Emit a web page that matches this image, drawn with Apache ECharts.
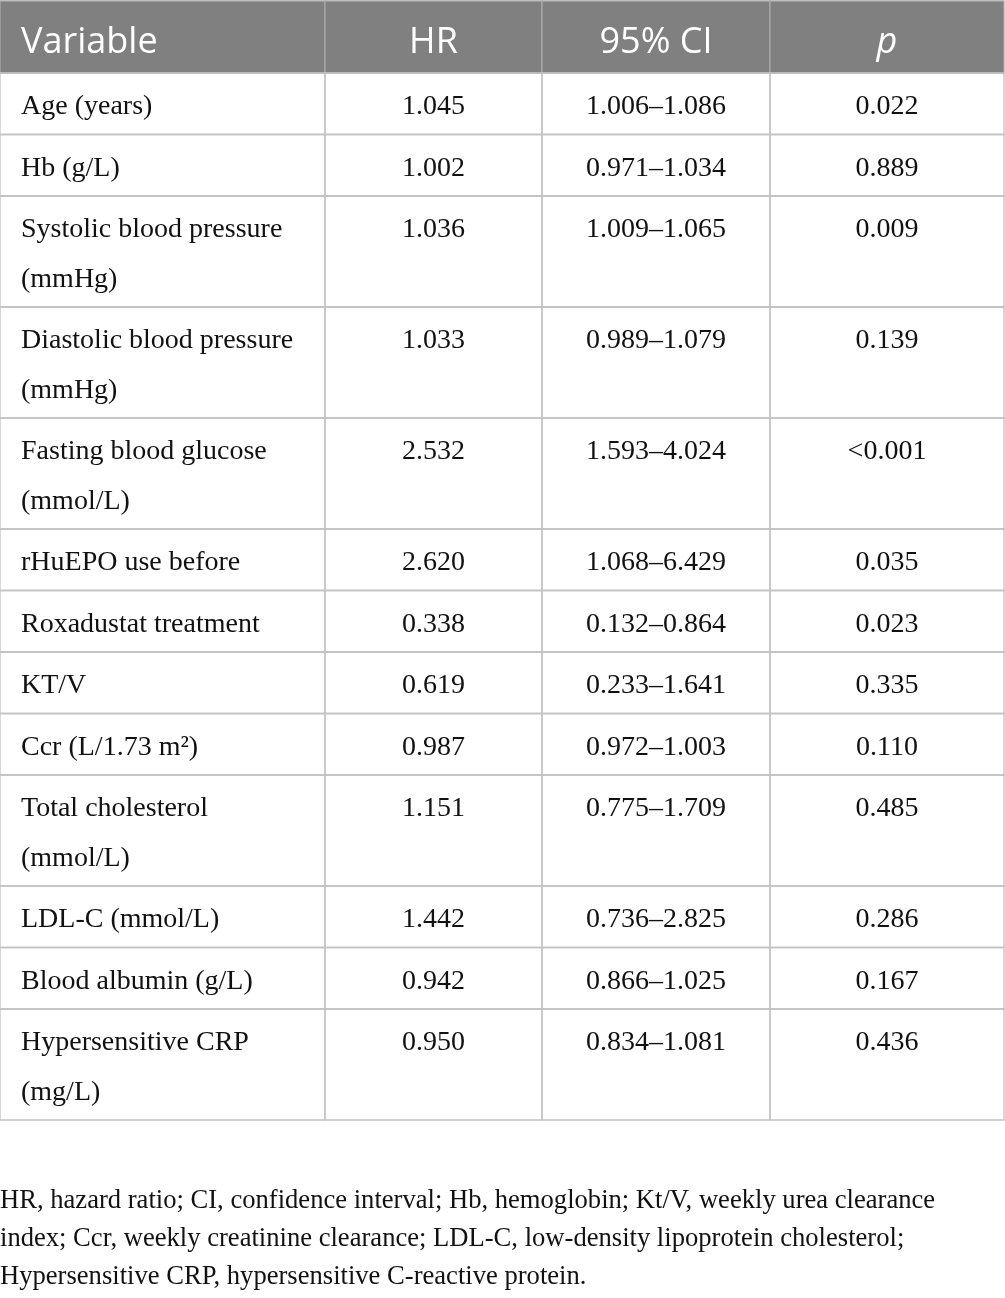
<!DOCTYPE html>
<html><head><meta charset="utf-8">
<script src="https://cdn.jsdelivr.net/npm/echarts/dist/echarts.min.js"></script>
<style>html,body{margin:0;padding:0;background:#fff}#c{width:1005px;height:1298px}</style>
</head><body><div id="c"></div>
<script>
// ---- data ----
const headers = ["Variable", "HR", "95% CI", "p"];
const variables = [
  "Age (years)",
  "Hb (g/L)",
  "Systolic blood pressure\n(mmHg)",
  "Diastolic blood pressure\n(mmHg)",
  "Fasting blood glucose\n(mmol/L)",
  "rHuEPO use before",
  "Roxadustat treatment",
  "KT/V",
  "Ccr (L/1.73 m\u00B2)",
  "Total cholesterol\n(mmol/L)",
  "LDL-C (mmol/L)",
  "Blood albumin (g/L)",
  "Hypersensitive CRP\n(mg/L)"
];
const hrValues = [1.045, 1.002, 1.036, 1.033, 2.532, 2.620, 0.338, 0.619, 0.987, 1.151, 1.442, 0.942, 0.950];
const ciLower  = [1.006, 0.971, 1.009, 0.989, 1.593, 1.068, 0.132, 0.233, 0.972, 0.775, 0.736, 0.866, 0.834];
const ciUpper  = [1.086, 1.034, 1.065, 1.079, 4.024, 6.429, 0.864, 1.641, 1.003, 1.709, 2.825, 1.025, 1.081];
const pValues  = ["0.022", "0.889", "0.009", "0.139", "<0.001", "0.035", "0.023", "0.335", "0.110", "0.485", "0.286", "0.167", "0.436"];
const footnoteLines = [
  "HR, hazard ratio; CI, confidence interval; Hb, hemoglobin; Kt/V, weekly urea clearance",
  "index; Ccr, weekly creatinine clearance; LDL-C, low-density lipoprotein cholesterol;",
  "Hypersensitive CRP, hypersensitive C-reactive protein."
];

// ---- layout ----
const W = 1005, H = 1298;
const colEdges = [0, 325, 542, 770, 1004];
const tableTop = 1, headerBottom = 73;
const lineStep = 49.5, rowPad = 12;
const rowTops = [tableTop], rowBottoms = [headerBottom];
let yy = headerBottom;
variables.forEach(v => {
  const n = v.split("\n").length;
  rowTops.push(yy);
  yy += n * lineStep + rowPad;
  rowBottoms.push(yy);
});

function bodyText(i, c) {
  if (c === 0) return variables[i];
  if (c === 1) return hrValues[i].toFixed(3);
  if (c === 2) return ciLower[i].toFixed(3) + "\u2013" + ciUpper[i].toFixed(3);
  return pValues[i];
}

const cells = [];
for (let r = 0; r <= variables.length; r++)
  for (let c = 0; c < headers.length; c++) cells.push([c, r]);

const SERIF = '"Liberation Serif", "DejaVu Serif", serif';
const SANS = '"Open Sans", "Noto Sans", sans-serif';

function renderItem(params, api) {
  const c = api.value(0), r = api.value(1);
  const p0 = api.coord([colEdges[c], rowTops[r]]);
  const p1 = api.coord([colEdges[c + 1], rowBottoms[r]]);
  const head = r === 0;
  const txt = head ? headers[c] : bodyText(r - 1, c);
  const tx = c === 0 ? p0[0] + 21 : (p0[0] + p1[0]) / 2;
  return {
    type: "group",
    children: [
      {
        type: "rect",
        shape: { x: p0[0], y: p0[1], width: p1[0] - p0[0], height: p1[1] - p0[1] },
        style: head ? { fill: "#808080", stroke: "#a8a8a8", lineWidth: 1.3 }
                    : { fill: "none", stroke: "#c2c2c2", lineWidth: 1.3 }
      },
      {
        type: "text",
        x: tx,
        y: head ? (p0[1] + p1[1]) / 2 + 6 : p0[1] + 32 - lineStep / 2 + 2,
        style: {
          text: txt,
          fill: head ? "#ffffff" : "#111111",
          fontFamily: head ? SANS : SERIF,
          fontSize: head ? 36 : 28,
          fontStyle: head && c === 3 ? "italic" : "normal",
          align: c === 0 ? "left" : "center",
          verticalAlign: head ? "middle" : "top",
          lineHeight: lineStep
        }
      }
    ]
  };
}

const chart = echarts.init(document.getElementById("c"), null, { renderer: "canvas" });
chart.setOption({
  animation: false,
  grid: { left: 0, top: 0, right: 0, bottom: 0 },
  xAxis: { type: "value", min: 0, max: W, show: false },
  yAxis: { type: "value", min: 0, max: H, inverse: true, show: false },
  graphic: footnoteLines.map((t, i) => ({
    type: "text",
    left: 0,
    top: 1188 + i * 38,
    style: { text: t, fill: "#111111", font: '26.6px ' + SERIF }
  })),
  series: [{
    type: "custom",
    clip: false,
    silent: true,
    renderItem: renderItem,
    data: cells
  }]
});
</script>
</body></html>
